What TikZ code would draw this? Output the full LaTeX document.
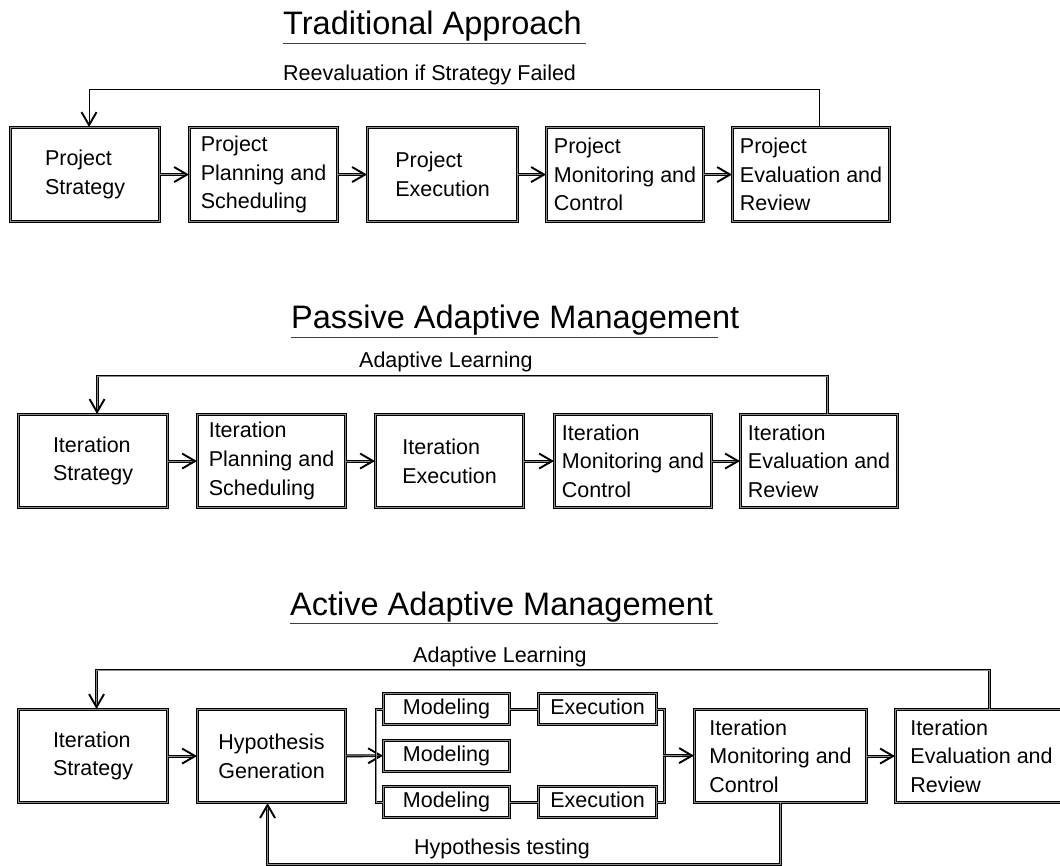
\documentclass[tikz,border=0pt]{standalone}
\usepackage{fontspec}
\setmainfont{Liberation Sans}
\usetikzlibrary{arrows.meta}
\begin{document}
\begin{tikzpicture}[x=1pt,y=-1pt,
  every node/.style={font=\fontsize{21.5}{28.7}\selectfont, inner sep=0pt},
  box/.style={draw, line width=1.1pt, double=black!45, double distance=0.7pt,
    align=left, anchor=north west, minimum height=94pt},
  smallbox/.style={box, minimum height=31pt, text height=15.5pt, text depth=4.5pt},
  title/.style={anchor=base west, font=\fontsize{32.5}{38}\selectfont},
  lbl/.style={anchor=base west},
  uline/.style={draw=black!75, line width=1pt},
  conn/.style={draw, line width=1.1pt, double=black!45, double distance=0.7pt},
  thin/.style={draw, line width=1pt},
  tip/.style={-{Straight Barb[length=13pt,width=15pt,line width=1.9pt]}}
]
\useasboundingbox (0,0) rectangle (1060,865);

% ---------- Traditional Approach ----------
\node[title] (t1) at (283,34) {Traditional Approach};
\draw[uline] (283,43) -- (586,43);
\node[lbl] (l1) at (283,80) {Reevaluation if Strategy Failed};
\node[box, minimum width=149pt] (a1) at (10,127) {Project\\Strategy};
\node[box, minimum width=148pt] (b1) at (189,127) {Project\\Planning and\\Scheduling};
\node[box, minimum width=150pt] (c1) at (367,127) {Project\\Execution};
\node[box, minimum width=157pt] (d1) at (546,127) {Project\\Monitoring and\\Control};
\node[box, minimum width=157pt] (e1) at (732,127) {Project\\Evaluation and\\Review};
\draw[conn,tip] (a1) -- (b1);
\draw[conn,tip] (b1) -- (c1);
\draw[conn,tip] (c1) -- (d1);
\draw[conn,tip] (d1) -- (e1);
\draw[thin,tip] ([xshift=8pt]e1.north) -- ++(0,-38) -| ([xshift=4pt]a1.north);

% ---------- Passive Adaptive Management ----------
\node[title] (t2) at (291,328) {Passive Adaptive Management};
\draw[uline] (291,337) -- (718,337);
\node[lbl] (l2) at (359,367) {Adaptive Learning};
\node[box, minimum width=149pt, minimum height=93pt] (a2) at (18,414) {Iteration\\Strategy};
\node[box, minimum width=148pt, minimum height=93pt] (b2) at (197,414) {Iteration\\Planning and\\Scheduling};
\node[box, minimum width=148pt, minimum height=93pt] (c2) at (375,414) {Iteration\\Execution};
\node[box, minimum width=157pt, minimum height=93pt] (d2) at (554,414) {Iteration\\Monitoring and\\Control};
\node[box, minimum width=157pt, minimum height=93pt] (e2) at (740,414) {Iteration\\Evaluation and\\Review};
\draw[conn,tip] (a2) -- (b2);
\draw[conn,tip] (b2) -- (c2);
\draw[conn,tip] (c2) -- (d2);
\draw[conn,tip] (d2) -- (e2);
\draw[conn,tip] ([xshift=8pt]e2.north) -- ++(0,-38) -| ([xshift=4pt]a2.north);

% ---------- Active Adaptive Management ----------
\node[title] (t3) at (290,615) {Active Adaptive Management};
\draw[uline] (290,623) -- (718,623);
\node[lbl] (l3) at (413,662) {Adaptive Learning};
\node[box, minimum width=149pt, minimum height=93pt] (a3) at (18,709) {Iteration\\Strategy};
\node[box, minimum width=148pt, minimum height=93pt] (h3) at (197,709) {Hypothesis\\Generation};
\node[smallbox, minimum width=126pt] (m1) at (383,693) {Modeling};
\node[smallbox, minimum width=126pt] (m2) at (383,739.5) {Modeling};
\node[smallbox, minimum width=126pt] (m3) at (383,786) {Modeling};
\node[smallbox, minimum width=118pt] (x1) at (538,693) {Execution};
\node[smallbox, minimum width=118pt] (x3) at (538,786) {Execution};
\node[box, minimum width=172pt, minimum height=93pt] (mo3) at (694,709) {Iteration\\Monitoring and\\Control};
\node[box, minimum width=172pt, minimum height=93pt] (ev3) at (895,709) {Iteration\\Evaluation and\\Review};
\node[lbl] (l4) at (414,854) {Hypothesis testing};
\coordinate (join) at (663,755.5);

\draw[conn,tip] (a3) -- (h3);
\draw[conn,tip] (h3) -- (m2);
\draw[conn] (m1.west) -- ++(-7,0) |- (m3.west);
\draw[conn] (m1) -- (x1);
\draw[conn] (m3) -- (x3);
\draw[conn] (x1.east) -- ++(7,0) |- (x3.east);
\draw[conn,tip] (join) -- (mo3);
\draw[conn,tip] (mo3) -- (ev3);
\draw[conn,tip] ([xshift=8pt]ev3.north) -- ++(0,-39) -| ([xshift=3.5pt]a3.north);
\draw[conn,tip] (mo3.south) -- ++(0,61) -| ([xshift=-4pt]h3.south);
\end{tikzpicture}
\end{document}
